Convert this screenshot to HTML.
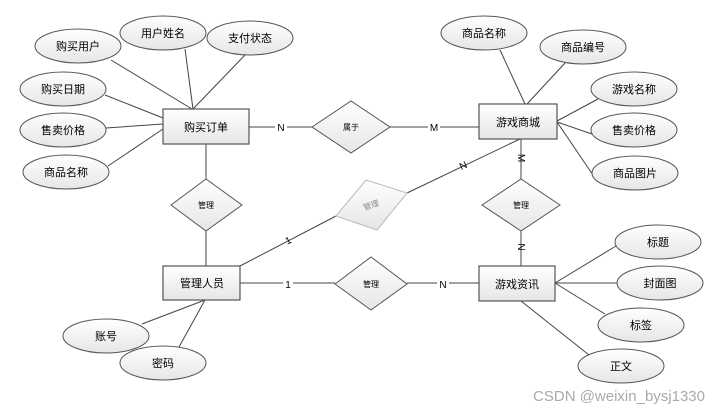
<!DOCTYPE html>
<html><head><meta charset="utf-8"><style>
body{margin:0;background:#fff;width:720px;height:415px;overflow:hidden}
svg text{font-family:"Liberation Sans","Noto Sans CJK SC",sans-serif;fill:#000}
</style></head><body>
<svg width="720" height="415" xmlns="http://www.w3.org/2000/svg">
<defs>
<linearGradient id="g" x1="0" y1="0" x2="0" y2="1"><stop offset="0" stop-color="#ffffff"/><stop offset="1" stop-color="#e6e6e6"/></linearGradient>
</defs>
<g stroke="#444" stroke-width="1" fill="none">
<!-- 购买订单 attrs -->
<line x1="111" y1="60" x2="192" y2="109"/>
<line x1="185" y1="49" x2="193" y2="109"/>
<line x1="245" y1="55" x2="193" y2="109"/>
<line x1="105" y1="95" x2="163" y2="118"/>
<line x1="106" y1="128" x2="163" y2="124"/>
<line x1="108" y1="166" x2="163" y2="129"/>
<!-- 游戏商城 attrs -->
<line x1="500" y1="50" x2="525" y2="104"/>
<line x1="565" y1="63" x2="527" y2="104"/>
<line x1="598" y1="99" x2="557" y2="121"/>
<line x1="592" y1="134" x2="557" y2="122"/>
<line x1="593" y1="175" x2="557" y2="122"/>
<!-- 游戏资讯 attrs -->
<line x1="616" y1="246" x2="555" y2="283"/>
<line x1="617" y1="283" x2="555" y2="283"/>
<line x1="605" y1="314" x2="555" y2="283"/>
<line x1="589" y1="355" x2="521" y2="301"/>
<!-- 管理人员 attrs -->
<line x1="142" y1="324" x2="205" y2="300"/>
<line x1="179" y1="347" x2="205" y2="300"/>
<!-- relations -->
<line x1="249" y1="127" x2="312" y2="127"/>
<line x1="390" y1="127" x2="479" y2="127"/>
<line x1="206" y1="144" x2="206" y2="179"/>
<line x1="206" y1="231" x2="206" y2="266"/>
<line x1="521" y1="139" x2="521" y2="179"/>
<line x1="521" y1="231" x2="521" y2="266"/>
<line x1="240" y1="283" x2="335" y2="283"/>
<line x1="407" y1="283" x2="479" y2="283"/>
<line x1="240" y1="266" x2="336" y2="216"/>
<line x1="407" y1="193" x2="520" y2="139"/>
</g>
<!-- ellipses -->
<g fill="url(#g)" stroke="#555" stroke-width="1">
<ellipse cx="78" cy="46" rx="43" ry="17"/>
<ellipse cx="163" cy="33" rx="43" ry="17"/>
<ellipse cx="250" cy="38" rx="43" ry="17"/>
<ellipse cx="63" cy="89" rx="43" ry="17"/>
<ellipse cx="63" cy="130" rx="43" ry="17"/>
<ellipse cx="66" cy="172" rx="43" ry="17"/>
<ellipse cx="484" cy="33" rx="43" ry="17"/>
<ellipse cx="583" cy="47" rx="43" ry="17"/>
<ellipse cx="634" cy="89" rx="43" ry="17"/>
<ellipse cx="634" cy="130" rx="43" ry="17"/>
<ellipse cx="635" cy="173" rx="43" ry="17"/>
<ellipse cx="658" cy="242" rx="43" ry="17"/>
<ellipse cx="660" cy="283" rx="43" ry="17"/>
<ellipse cx="641" cy="325" rx="43" ry="17"/>
<ellipse cx="621" cy="366" rx="43" ry="17"/>
<ellipse cx="106" cy="336" rx="43" ry="17"/>
<ellipse cx="163" cy="363" rx="43" ry="17"/>
</g>
<!-- rects -->
<g fill="url(#g)" stroke="#555" stroke-width="1.2">
<rect x="163" y="109" width="86" height="35"/>
<rect x="479" y="104" width="78" height="35"/>
<rect x="163" y="266" width="77" height="34"/>
<rect x="479" y="266" width="76" height="35"/>
</g>
<!-- diamonds -->
<g fill="url(#g)" stroke="#555" stroke-width="1">
<polygon points="312,127 351,101 390,127 351,153"/>
<polygon points="171,205 206,179 242,205 206,231"/>
<polygon points="482,205 521,179 560,205 521,231"/>
<polygon points="335,284 371,257 407,284 371,310"/>
</g>
<polygon points="336,216 366,180 407,193 377,230" fill="url(#g)" stroke="#bbb" stroke-width="1"/>
<!-- labels -->
<g font-size="11" text-anchor="middle">
<text x="78" y="50">购买用户</text>
<text x="163" y="37">用户姓名</text>
<text x="250" y="42">支付状态</text>
<text x="63" y="93">购买日期</text>
<text x="63" y="134">售卖价格</text>
<text x="66" y="176">商品名称</text>
<text x="484" y="37">商品名称</text>
<text x="583" y="51">商品编号</text>
<text x="634" y="93">游戏名称</text>
<text x="634" y="134">售卖价格</text>
<text x="635" y="177">商品图片</text>
<text x="658" y="246">标题</text>
<text x="660" y="287">封面图</text>
<text x="641" y="329">标签</text>
<text x="621" y="370">正文</text>
<text x="106" y="340">账号</text>
<text x="163" y="367">密码</text>
<text x="206" y="131">购买订单</text>
<text x="518" y="126">游戏商城</text>
<text x="202" y="287">管理人员</text>
<text x="517" y="288">游戏资讯</text>
</g>
<g font-size="8" text-anchor="middle">
<text x="351" y="130">属于</text>
<text x="206" y="208">管理</text>
<text x="521" y="208">管理</text>
<text x="371" y="287">管理</text>
<text x="371" y="208" fill="#888" style="fill:#888" transform="rotate(-20 371 205)">管理</text>
</g>
<g font-size="10" text-anchor="middle">
<rect x="275" y="121" width="12" height="12" fill="#fff"/>
<text x="281" y="131">N</text>
<rect x="428" y="121" width="12" height="12" fill="#fff"/>
<text x="434" y="131">M</text>
<text x="521" y="161" transform="rotate(90 521 158)">M</text>
<text x="521" y="250" transform="rotate(90 521 247)">N</text>
<text x="463" y="169" transform="rotate(-25 463 165)">N</text>
<text x="288" y="244" transform="rotate(-25 288 240)">1</text>
<rect x="283" y="278" width="10" height="12" fill="#fff"/>
<text x="288" y="288">1</text>
<rect x="437" y="278" width="12" height="12" fill="#fff"/>
<text x="443" y="288">N</text>
</g>
<text x="705" y="401" font-size="15" text-anchor="end" style="fill:#aaa">CSDN @weixin_bysj1330</text>
</svg>
</body></html>
